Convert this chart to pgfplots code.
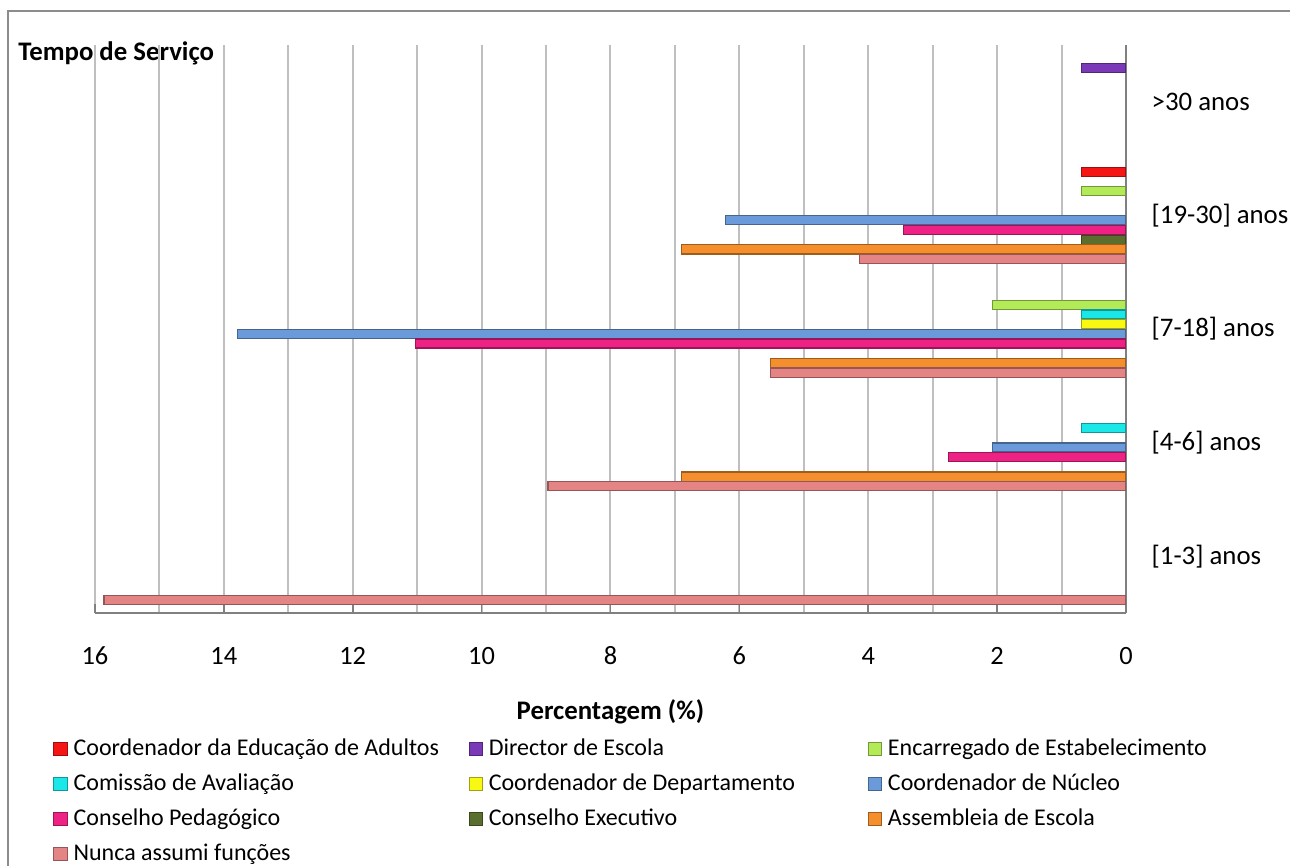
\documentclass[border=0pt]{standalone}
\usepackage{pgfplots}
\pgfplotsset{compat=1.18}
\usepackage{fontspec}
\setmainfont{Carlito}
\definecolor{cAdu}{HTML}{F51515}
\definecolor{cDir}{HTML}{7A3AB8}
\definecolor{cEnc}{HTML}{B2EA58}
\definecolor{cCom}{HTML}{1AE8E8}
\definecolor{cDep}{HTML}{F8F812}
\definecolor{cNuc}{HTML}{6A9ADA}
\definecolor{cPed}{HTML}{EE2285}
\definecolor{cExe}{HTML}{5A6E2E}
\definecolor{cAss}{HTML}{F58E2C}
\definecolor{cNun}{HTML}{E48484}
\tikzset{mybar/.style={fill=#1, draw=#1!65!black, line width=0.6pt}}
\begin{document}
\fontsize{12.5}{15}\selectfont
\begin{tikzpicture}
\useasboundingbox (-47.5pt,-126.5pt) rectangle (597.5pt,306.5pt);
\draw[black!45, line width=0.8pt] (-43.5pt,-130pt) -- (-43.5pt,301pt) -- (600pt,301pt);
\node[font=\bfseries\fontsize{13.4}{16}\selectfont, anchor=west, inner sep=0pt] at (-38.5pt,280pt) {Tempo de Serviço};
\begin{axis}[
  at={(0,0)}, anchor=south west,
  scale only axis, width=515.5pt, height=284pt,
  xbar, x dir=reverse,
  xmin=0, xmax=16, ymin=-0.5, ymax=4.5,
  axis x line*=bottom, axis y line*=right,
  axis line style={-, draw=black!50, line width=0.8pt},
  xtick={0,2,...,16}, minor xtick={1,3,...,15},
  xmajorgrids, xminorgrids,
  major grid style={draw=black!25, line width=1pt},
  minor grid style={draw=black!25, line width=1pt},
  major x tick style={draw=black!50, line width=0.8pt},
  minor x tick style={draw=none},
  major tick length=4.5pt,
  xtick pos=bottom,
  ytick={0,1,2,3,4},
  yticklabels={{[1-3] anos},{[4-6] anos},{[7-18] anos},{[19-30] anos},{>30 anos}},
  ytick style={draw=none},
  yticklabel style={anchor=west, xshift=4pt, font=\fontsize{13.4}{16}\selectfont},
  xticklabel style={anchor=center, yshift=-21.5pt, font=\fontsize{13.2}{16}\selectfont},
  /pgf/number format/assume math mode=true,
  xlabel={Percentagem (\%)},
  xlabel style={at={(axis description cs:0.5,0)}, anchor=center, yshift=-49.5pt, font=\bfseries\fontsize{13.4}{16}\selectfont},
  bar width=0.08,
  legend columns=3,
  legend cell align=left,
  legend style={at={(axis description cs:0,0)}, anchor=north west, xshift=-24pt, yshift=-58.5pt, draw=none, fill=none, row sep=3.4pt, font=\fontsize{12}{14.5}\selectfont, /tikz/every odd column/.append style={column sep=1pt}},
  legend image code/.code={\draw[#1, line width=0.5pt] (0pt,-3.3pt) rectangle (6.6pt,3.3pt);},
]
\addplot[mybar=cAdu, bar shift=0.384] coordinates {(0.69,3)};
\addlegendentry{\makebox[195.5pt][l]{Coordenador da Educação de Adultos}}
\addplot[mybar=cDir, bar shift=0.299] coordinates {(0.69,4)};
\addlegendentry{\makebox[187.5pt][l]{Director de Escola}}
\addplot[mybar=cEnc, bar shift=0.2135] coordinates {(2.07,2) (0.69,3)};
\addlegendentry{Encarregado de Estabelecimento}
\addplot[mybar=cCom, bar shift=0.128] coordinates {(0.69,1) (0.69,2)};
\addlegendentry{Comissão de Avaliação}
\addplot[mybar=cDep, bar shift=0.0427] coordinates {(0.69,2)};
\addlegendentry{Coordenador de Departamento}
\addplot[mybar=cNuc, bar shift=-0.0427] coordinates {(2.07,1) (13.79,2) (6.21,3)};
\addlegendentry{Coordenador de Núcleo}
\addplot[mybar=cPed, bar shift=-0.128] coordinates {(2.76,1) (11.03,2) (3.45,3)};
\addlegendentry{Conselho Pedagógico}
\addplot[mybar=cExe, bar shift=-0.2135] coordinates {(0.69,3)};
\addlegendentry{Conselho Executivo}
\addplot[mybar=cAss, bar shift=-0.299] coordinates {(6.90,1) (5.52,2) (6.90,3)};
\addlegendentry{Assembleia de Escola}
\addplot[mybar=cNun, bar shift=-0.384] coordinates {(15.86,0) (8.97,1) (5.52,2) (4.14,3)};
\addlegendentry{Nunca assumi funções}
\end{axis}
\end{tikzpicture}
\end{document}
